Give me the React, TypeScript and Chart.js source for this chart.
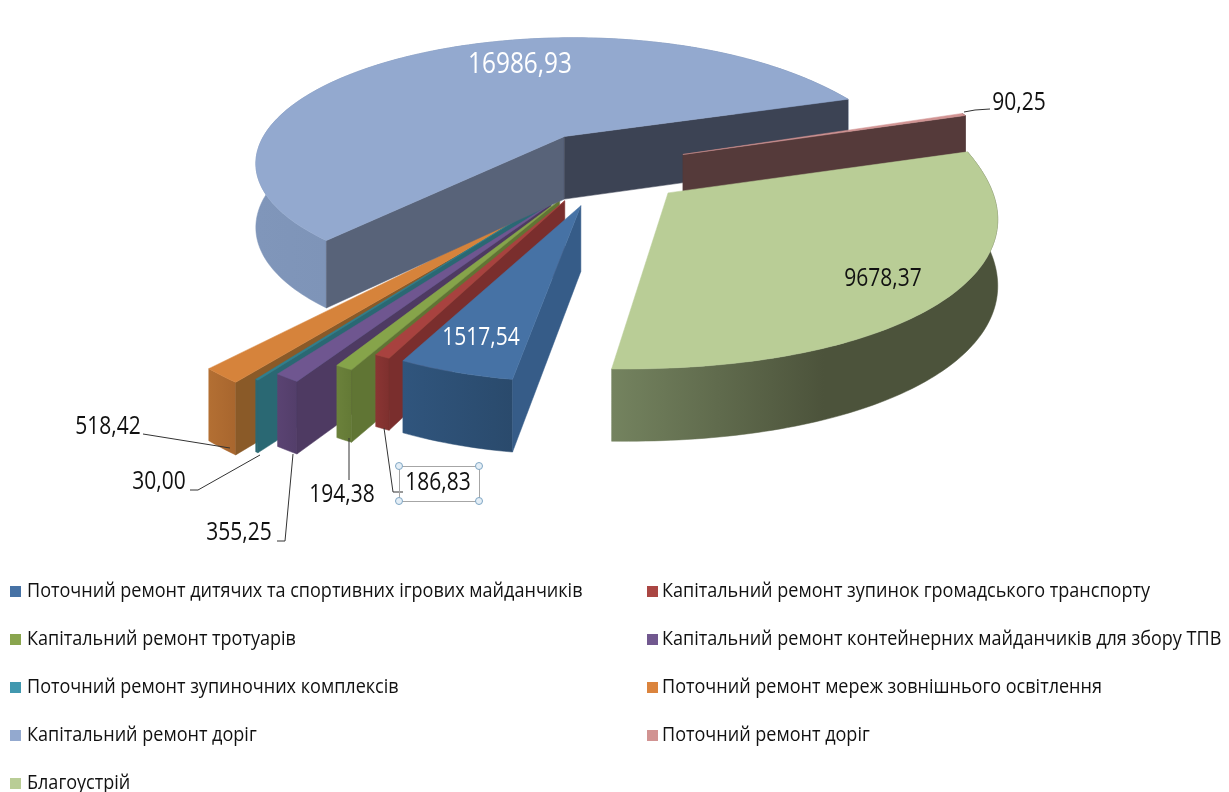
import React, { useEffect, useRef } from "react";
import { Chart, registerables } from "chart.js";

Chart.register(...registerables);

const categories = [
  "Поточний ремонт дитячих та спортивних ігрових майданчиків",
  "Капітальний ремонт зупинок громадського транспорту",
  "Капітальний ремонт тротуарів",
  "Капітальний ремонт контейнерних майданчиків для збору ТПВ",
  "Поточний ремонт зупиночних комплексів",
  "Поточний ремонт мереж зовнішнього освітлення",
  "Капітальний ремонт доріг",
  "Поточний ремонт доріг",
  "Благоустрій",
];
const values = [1517.54, 186.83, 194.38, 355.25, 30.0, 518.42, 16986.93, 90.25, 9678.37];

const legendColors = ["#4672A5", "#AA4643", "#89A54E", "#71588F", "#4198AF", "#DB843D", "#93A9CF", "#D19392", "#B9CD96"];
const topColors = ["#4672A5", "#A8423F", "#86A44A", "#6F5690", "#2F7F8F", "#D6833B", "#93A9CF", "#D19392", "#B9CD96"];
const startWallColors = ["#365C88", "#7A2E2D", "#607534", "#4E3A62", "#2A6873", "#8A5A28", "#586379", "#553A3A", "#4C533B"];
const endWallColors = ["#365C88", "#7A2E2D", "#607534", "#4E3A62", "#2A6873", "#8A5A28", "#3C4354", "#553A3A", "#4C533B"];
const bandLeft = ["#30557D", "#8A3533", "#6B813B", "#5A4372", "#2A6873", "#B36F33", "#8096BA", "#553A3A", "#74835F"];
const bandRight = ["#2A4A6C", "#7E302E", "#647A36", "#533E6A", "#2A6873", "#A8662E", "#6F85A8", "#553A3A", "#4C533B"];

const drawOrder = [5, 4, 3, 2, 1, 0, 6, 7, 8];

const view = { cx: 607, cy: 168, a: 323, b: 132, k: 0.206, h: 64, k2: 0.1, explode: 0.27 };
// per-slice camera corrections: reach = radial scale, ds/de = edge turn in degrees,
// dx/dy = screen shift, bs/be = rim swell near the start/end edge
const tweaks = [
  { reach: 0.95, ds: -0.6, de: -2.2, dx: 3, dy: 2, bs: 0, be: 0 },
  { reach: 0.96, ds: -3.4, de: -3.4, dx: 2, dy: 0, bs: 0, be: 0 },
  { reach: 1.04, ds: -3.6, de: -3.6, dx: 0, dy: 0, bs: 0, be: 0 },
  { reach: 1.12, ds: -2.2, de: -3.4, dx: -4, dy: 5, bs: 0, be: 0 },
  { reach: 1.16, ds: -3.4, de: -3.4, dx: -8, dy: 5, bs: 0, be: 0 },
  { reach: 1.2, ds: -1.8, de: -3.4, dx: -1, dy: 7, bs: 0, be: 0 },
  { reach: 0.975, ds: -2.5, de: 1, dx: 3, dy: -3, bs: 0, be: 0.05 },
  { reach: 1.02, ds: 0, de: 0, dx: -5, dy: -2, bs: 0, be: 0 },
  { reach: 0.93, ds: 1, de: 1, dx: -8, dy: 1, bs: 0.09, be: 0.07 },
];

const valueLabels = [
  { i: 6, x: 520, y: 65, color: "#FFFFFF", size: 29 },
  { i: 0, x: 481, y: 338, color: "#FFFFFF", size: 25 },
  { i: 8, x: 883, y: 279, color: "#111111", size: 25 },
  { i: 7, x: 1019, y: 103, color: "#111111", size: 25 },
  { i: 5, x: 108, y: 427, color: "#111111", size: 25 },
  { i: 4, x: 159, y: 482, color: "#111111", size: 25 },
  { i: 3, x: 239, y: 533, color: "#111111", size: 25 },
  { i: 2, x: 342, y: 495, color: "#111111", size: 25 },
  { i: 1, x: 438, y: 483, color: "#111111", size: 25 },
];
const leaders = [
  [[964, 112], [975, 110], [990, 109]],
  [[143, 434], [230, 448]],
  [[190, 490], [198, 490], [260, 455]],
  [[277, 541], [285, 541], [293, 454]],
  [[349, 480], [349, 438]],
  [[403, 492], [393, 492], [384, 428]],
];
const legendCols = [
  { sq: 10, tx: 27 },
  { sq: 647, tx: 662 },
];
const legendRows = [591, 639, 687, 735, 783];
const FONT = '"Open Sans", "Noto Sans", sans-serif';

const project = (X: number, Y: number, z: number, tw: { dx: number; dy: number }) => {
  const w = 1 + view.k * Y;
  return [
    view.cx + (view.a * X) / w + tw.dx,
    view.cy - (view.b * Y) / w + (z * view.h) / (1 + view.k2 * Y) + tw.dy,
  ];
};

const poly = (ctx: CanvasRenderingContext2D, pts: number[][], fill: string | CanvasGradient) => {
  ctx.beginPath();
  pts.forEach((p, i) => (i ? ctx.lineTo(p[0], p[1]) : ctx.moveTo(p[0], p[1])));
  ctx.closePath();
  ctx.fillStyle = fill;
  ctx.fill();
  ctx.strokeStyle = fill;
  ctx.lineWidth = 0.5;
  ctx.stroke();
};

const pie3d = {
  id: "pie3d",
  beforeDatasetsDraw(chart: any) {
    const ctx: CanvasRenderingContext2D = chart.ctx;
    const arcs = chart.getDatasetMeta(0).data;
    ctx.save();
    drawOrder.forEach((i) => {
      const el = arcs[i];
      const tw = tweaks[i];
      const m = (el.startAngle + el.endAngle) / 2;
      const s = el.startAngle + (tw.ds * Math.PI) / 180;
      const t = el.endAngle + (tw.de * Math.PI) / 180;
      const ox = view.explode * Math.cos(m);
      const oy = -view.explode * Math.sin(m);
      const n = Math.max(2, Math.ceil((t - s) / 0.02));
      const rimTop: number[][] = [];
      const rimBot: number[][] = [];
      for (let j = 0; j <= n; j++) {
        const u = s + ((t - s) * j) / n;
        const r = tw.reach * (1 + tw.bs * Math.exp(-(u - s) / 0.4) + tw.be * Math.exp(-(t - u) / 0.4));
        const X = ox + r * Math.cos(u);
        const Y = oy - r * Math.sin(u);
        rimTop.push(project(X, Y, 0, tw));
        rimBot.push(project(X, Y, 1, tw));
      }
      const tipTop = project(ox, oy, 0, tw);
      const tipBot = project(ox, oy, 1, tw);
      const xs = rimTop.map((p) => p[0]);
      const g = ctx.createLinearGradient(Math.min(...xs), 0, Math.max(...xs), 0);
      g.addColorStop(0, bandLeft[i]);
      g.addColorStop(i === 8 ? 0.55 : 1, bandRight[i]);
      if (i === 8) g.addColorStop(1, bandRight[i]);
      poly(ctx, [...rimTop, ...rimBot.slice().reverse()], g);
      if (rimTop[0][0] < tipTop[0]) poly(ctx, [tipTop, rimTop[0], rimBot[0], tipBot], startWallColors[i]);
      if (rimTop[n][0] > tipTop[0]) poly(ctx, [tipTop, rimTop[n], rimBot[n], tipBot], endWallColors[i]);
      poly(ctx, [tipTop, ...rimTop], topColors[i]);
    });
    ctx.restore();
    return false;
  },
  afterDraw(chart: any) {
    const ctx: CanvasRenderingContext2D = chart.ctx;
    const ds = chart.data.datasets[0];
    ctx.save();
    ctx.strokeStyle = "#333333";
    ctx.lineWidth = 1;
    leaders.forEach((l) => {
      ctx.beginPath();
      l.forEach((p, i) => (i ? ctx.lineTo(p[0], p[1]) : ctx.moveTo(p[0], p[1])));
      ctx.stroke();
    });
    ctx.strokeStyle = "#A6A6A6";
    ctx.strokeRect(399.5, 466.5, 80, 35);
    ctx.strokeStyle = "#7FA6C4";
    ctx.fillStyle = "#E4EEF6";
    [[399, 466], [479, 466], [399, 501], [479, 501]].forEach(([x, y]) => {
      ctx.beginPath();
      ctx.arc(x, y, 3.5, 0, Math.PI * 2);
      ctx.fill();
      ctx.stroke();
    });
    ctx.textAlign = "center";
    ctx.textBaseline = "middle";
    valueLabels.forEach((v) => {
      const text = ds.data[v.i].toFixed(2).replace(".", ",");
      ctx.font = `${v.size}px ${FONT}`;
      ctx.fillStyle = v.color;
      const w = ctx.measureText(text).width;
      ctx.fillText(text, v.x, v.y, w * 0.84);
    });
    ctx.font = `19.2px ${FONT}`;
    ctx.textAlign = "left";
    chart.data.labels.forEach((label: string, i: number) => {
      const col = legendCols[i % 2];
      const y = legendRows[Math.floor(i / 2)];
      ctx.fillStyle = legendColors[i];
      ctx.fillRect(col.sq, y - 5, 11, 11);
      ctx.fillStyle = "#111111";
      const w = ctx.measureText(label).width;
      ctx.fillText(label, col.tx, y + 1, w * 0.94);
    });
    ctx.restore();
  },
};

export default function App() {
  const ref = useRef<HTMLCanvasElement>(null);
  useEffect(() => {
    const chart = new Chart(ref.current!, {
      type: "pie",
      data: {
        labels: categories,
        datasets: [{ data: values, backgroundColor: legendColors }],
      },
      options: {
        animation: false,
        responsive: false,
        rotation: 189.2,
        plugins: { legend: { display: false }, tooltip: { enabled: false } },
      },
      plugins: [pie3d],
    });
    return () => chart.destroy();
  }, []);
  return (
    <canvas
      ref={ref}
      width={1229}
      height={792}
      style={{ position: "fixed", left: 0, top: 0, width: 1229, height: 792, display: "block" }}
    />
  );
}
